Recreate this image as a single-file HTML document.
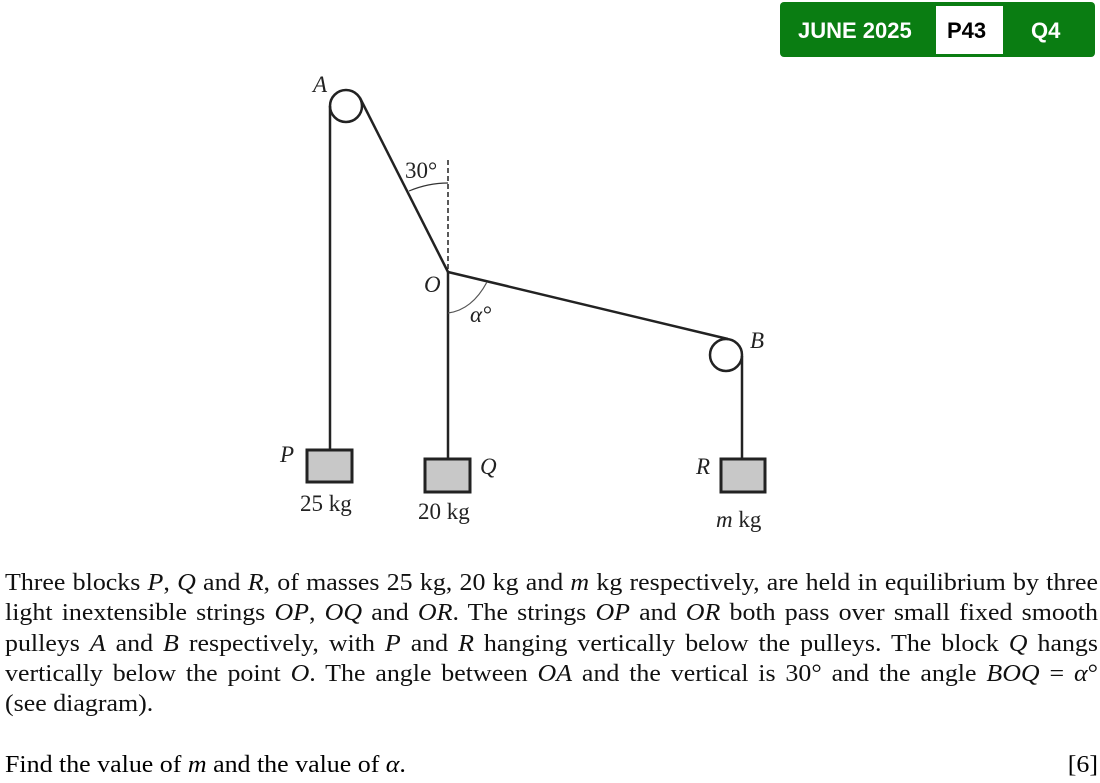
<!DOCTYPE html>
<html><head><style>
body{margin:0;width:1100px;height:783px;background:#fff;position:relative;overflow:hidden;font-family:"Liberation Serif",serif;}
.badge{position:absolute;left:780px;top:2px;width:315px;height:55px;background:#0a7d12;border-radius:4px;font-family:"Liberation Sans",sans-serif;font-weight:bold;font-size:22px;color:#fff;}
.badge span{position:absolute;top:16px;}
.wb{position:absolute;left:156px;top:4px;width:67px;height:48px;background:#fff;}
.para{position:absolute;left:5px;top:568px;width:1012px;font-size:24px;line-height:30.3px;color:#111;transform:scaleX(1.08);transform-origin:0 0;}
.para div{text-align:justify;text-align-last:justify;white-space:nowrap;}
.para div.nl{text-align-last:left;}
.last{position:absolute;left:5px;top:752px;font-size:24px;width:1012px;transform:scaleX(1.08);transform-origin:0 0;}
</style></head><body>
<svg width="1100" height="545" style="position:absolute;left:0;top:0" font-family="Liberation Serif, serif" fill="#222">
<g stroke="#222" stroke-width="2.5" fill="none">
<circle cx="346" cy="106" r="16"/>
<circle cx="726" cy="355" r="16"/>
<line x1="330" y1="106" x2="330" y2="450"/>
<line x1="360" y1="98" x2="448" y2="272"/>
<line x1="448" y1="272" x2="448" y2="459"/>
<line x1="448" y1="272" x2="728" y2="339"/>
<line x1="742" y1="356" x2="742" y2="459"/>
</g>
<line x1="448" y1="160" x2="448" y2="272" stroke="#222" stroke-width="1.5" stroke-dasharray="5,3"/>
<path d="M409 191 Q428 183 448 183" stroke="#333" stroke-width="1.2" fill="none"/>
<path d="M448 313 Q472 310 487 282" stroke="#555" stroke-width="1.2" fill="none"/>
<g fill="#c8c8c8" stroke="#222" stroke-width="3">
<rect x="307" y="450" width="45" height="32"/>
<rect x="425" y="459" width="45" height="33"/>
<rect x="721" y="459" width="44" height="33"/>
</g>
<g font-size="23" font-style="italic">
<text x="313" y="92">A</text>
<text x="280" y="462">P</text>
<text x="480" y="474">Q</text>
<text x="696" y="474">R</text>
<text x="750" y="348">B</text>
<text x="424" y="292">O</text>
<text x="470" y="322">α°</text>
</g>
<text x="405" y="178" font-size="23">30°</text>
<text x="300" y="511" font-size="23">25 kg</text>
<text x="418" y="519" font-size="23">20 kg</text>
<text x="716" y="527" font-size="23"><tspan font-style="italic">m</tspan> kg</text>
</svg>
<div class="badge"><span style="left:18px">JUNE 2025</span><div class="wb"></div><span style="left:167px;color:#000">P43</span><span style="left:251px">Q4</span></div>
<div class="para">
<div>Three blocks <i>P</i>, <i>Q</i> and <i>R</i>, of masses 25 kg, 20 kg and <i>m</i> kg respectively, are held in equilibrium by three</div>
<div>light inextensible strings <i>OP</i>, <i>OQ</i> and <i>OR</i>. The strings <i>OP</i> and <i>OR</i> both pass over small fixed smooth</div>
<div>pulleys <i>A</i> and <i>B</i> respectively, with <i>P</i> and <i>R</i> hanging vertically below the pulleys. The block <i>Q</i> hangs</div>
<div>vertically below the point <i>O</i>. The angle between <i>OA</i> and the vertical is 30° and the angle <i>BOQ</i> = <i>α</i>°</div>
<div class="nl">(see diagram).</div>
</div>
<div class="last">Find the value of <i>m</i> and the value of <i>α</i>.<span style="float:right">[6]</span></div>
</body></html>
